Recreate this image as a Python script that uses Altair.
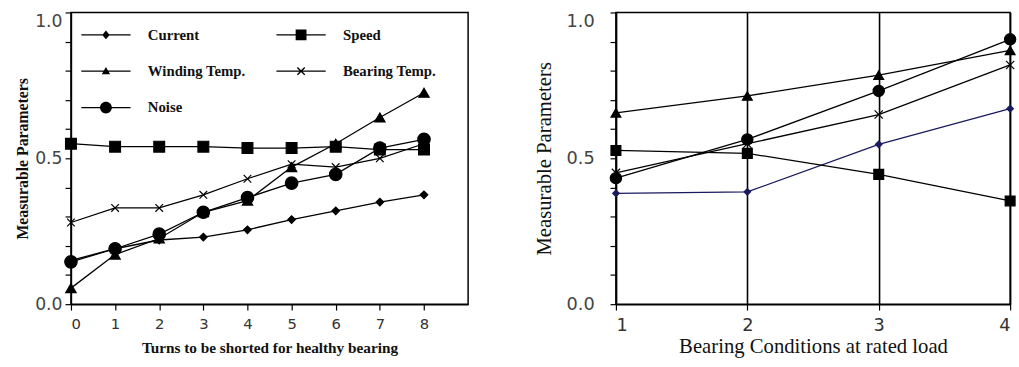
import altair as alt
import pandas as pd

# ---------------- data ----------------
series = ["Current", "Speed", "Winding Temp.", "Bearing Temp.", "Noise"]

turns = [0, 1, 2, 3, 4, 5, 6, 7, 8]
current_left = [0.15, 0.19, 0.22, 0.23, 0.255, 0.29, 0.32, 0.35, 0.375]
speed_left = [0.55, 0.54, 0.54, 0.54, 0.535, 0.535, 0.54, 0.53, 0.53]
winding_left = [0.055, 0.17, 0.225, 0.315, 0.355, 0.47, 0.55, 0.64, 0.725]
bearing_left = [0.28, 0.33, 0.33, 0.375, 0.43, 0.48, 0.47, 0.50, 0.55]
noise_left = [0.145, 0.19, 0.24, 0.315, 0.365, 0.415, 0.445, 0.535, 0.565]

conditions = [1, 2, 3, 4]
current_right = [0.38, 0.385, 0.548, 0.67]
speed_right = [0.527, 0.517, 0.445, 0.354]
winding_right = [0.656, 0.714, 0.785, 0.87]
bearing_right = [0.45, 0.55, 0.65, 0.82]
noise_right = [0.432, 0.565, 0.731, 0.908]

y_ticks = [0.0, 0.1, 0.2, 0.3, 0.4, 0.5, 0.6, 0.7, 0.8, 0.9, 1.0]
x_ticks_left = turns
x_ticks_right = conditions

left_title_x = "Turns to be shorted for healthy bearing"
right_title_x = "Bearing Conditions at rated load"
title_y = "Measurable Parameters"

# ---------------- styles ----------------
marker_shapes = ["diamond", "square", "triangle-up", "M-1,-1L1,1M-1,1L1,-1", "circle"]
marker_sizes_left = [60, 120, 110, 60, 160]
marker_sizes_right = [45, 100, 100, 70, 130]
legend_line = "M-5,-0.13H5V0.13H-5Z"
legend_shapes = [
    legend_line + "M0,-0.9L0.75,0L0,0.9L-0.75,0Z",
    legend_line + "M-1.1,-1.1H1.1V1.1H-1.1Z",
    legend_line + "M0,-0.85L0.85,0.65H-0.85Z",
    legend_line + "M-0.65,-0.85L0.85,0.65L0.65,0.85L-0.85,-0.65Z"
                  "M0.65,-0.85L0.85,-0.65L-0.65,0.85L-0.85,0.65Z",
    legend_line + "M-1.2,0A1.2,1.2,0,1,1,1.2,0A1.2,1.2,0,1,1,-1.2,0Z",
]
right_colors = ["#1a1a5e", "black", "black", "black", "black"]


def to_long(xs, cols):
    rows = []
    for name, vals in zip(series, cols):
        for xv, yv in zip(xs, vals):
            rows.append({"x": xv, "value": yv, "series": name})
    return pd.DataFrame(rows)


df_left = to_long(turns, [current_left, speed_left, winding_left, bearing_left, noise_left])
df_right = to_long(conditions, [current_right, speed_right, winding_right, bearing_right, noise_right])

label_expr = "abs((datum.value * 10) % 5) < 0.01 ? format(datum.value, '.1f') : ''"
top_label_baseline = {"condition": {"test": "datum.value >= 0.99", "value": "top"}, "value": "middle"}

# ---------------- left panel ----------------
xl = alt.X("x:Q", scale=alt.Scale(domain=[0, 9], nice=False, zero=False),
           axis=alt.Axis(values=x_ticks_left, title=left_title_x, grid=False,
                         labelFont="DejaVu Sans", labelFontSize=15, labelColor="#333",
                         titleFont="Liberation Serif", titleFontSize=15.5, titleFontWeight="bold",
                         titleColor="#111", tickSize=6, labelPadding=7, titlePadding=9))
yl = alt.Y("value:Q", scale=alt.Scale(domain=[0, 1], nice=False),
           axis=alt.Axis(values=y_ticks, labelExpr=label_expr, title=title_y, grid=False,
                         labelFont="DejaVu Sans", labelFontSize=17.5, labelColor="#444",
                         labelBaseline=top_label_baseline,
                         titleFont="Liberation Serif", titleFontSize=16, titleFontWeight="bold",
                         titleColor="#111", tickSize=6, labelPadding=3, titlePadding=4))

base_l = alt.Chart(df_left)
layers_l = [base_l.mark_line(color="black", strokeWidth=1.3).encode(x=xl, y=yl, detail="series:N")]
for name, shp, sz in zip(series, marker_shapes, marker_sizes_left):
    layers_l.append(
        base_l.transform_filter(alt.datum.series == name)
        .mark_point(filled=True, color="black", stroke="black", strokeWidth=1.2, opacity=1,
                    shape=shp, size=sz)
        .encode(x=xl, y=yl)
    )
layers_l.append(
    base_l.mark_point(filled=True, color="black", opacity=0).encode(
        x=xl, y=yl,
        shape=alt.Shape("series:N", scale=alt.Scale(domain=series, range=legend_shapes),
                        legend=alt.Legend(title=None, orient="none", legendX=28, legendY=15,
                                          direction="horizontal", columns=2,
                                          columnPadding=30, rowPadding=21,
                                          symbolSize=100, symbolStrokeWidth=0,
                                          symbolFillColor="black",
                                          symbolOpacity=1, labelOffset=35,
                                          labelFont="Liberation Serif", labelFontSize=15,
                                          labelFontWeight="bold", labelColor="#111")),
    )
)
left = alt.layer(*layers_l).properties(width=403, height=296)

# ---------------- right panel ----------------
xr = alt.X("x:Q", scale=alt.Scale(domain=[1, 4], nice=False, zero=False),
           axis=alt.Axis(values=x_ticks_right, title=right_title_x, grid=True,
                         gridColor="black", gridWidth=1.6, gridOpacity=1,
                         labelFont="DejaVu Sans", labelFontSize=18, labelColor="#333",
                         titleFont="Liberation Serif", titleFontSize=21, titleFontWeight="normal",
                         titleColor="#111", tickSize=6, labelPadding=7, titlePadding=1))
yr = alt.Y("value:Q", scale=alt.Scale(domain=[0, 1], nice=False),
           axis=alt.Axis(values=y_ticks, labelExpr=label_expr, title=title_y, grid=False,
                         labelFont="DejaVu Sans", labelFontSize=18, labelColor="#444",
                         labelBaseline=top_label_baseline,
                         titleFont="Liberation Serif", titleFontSize=21, titleFontWeight="normal",
                         titleColor="#111", tickSize=6, labelPadding=16, titlePadding=12))
col_r = alt.Color("series:N", scale=alt.Scale(domain=series, range=right_colors), legend=None)
base_r = alt.Chart(df_right)
layers_r = [base_r.mark_line(strokeWidth=1.3).encode(x=xr, y=yr, detail="series:N", color=col_r)]
for name, shp, sz, colr in zip(series, marker_shapes, marker_sizes_right, right_colors):
    layers_r.append(
        base_r.transform_filter(alt.datum.series == name)
        .mark_point(filled=True, color=colr, stroke=colr, strokeWidth=1.2, opacity=1,
                    shape=shp, size=sz)
        .encode(x=xr, y=yr)
    )
right = alt.layer(*layers_r).properties(width=400, height=296)

chart = alt.hconcat(left, right, spacing=64).resolve_scale(
    x="independent", y="independent", shape="independent", color="independent"
).properties(
    padding={"left": 14, "top": 8, "right": 0, "bottom": 0},
    background="white",
).configure_view(stroke="black", strokeWidth=1.5).configure_axis(
    domainColor="black", domainWidth=1.5, tickColor="black", tickWidth=1.2
)

chart.save("out.html", embed_options={"renderer": "svg", "actions": False})
